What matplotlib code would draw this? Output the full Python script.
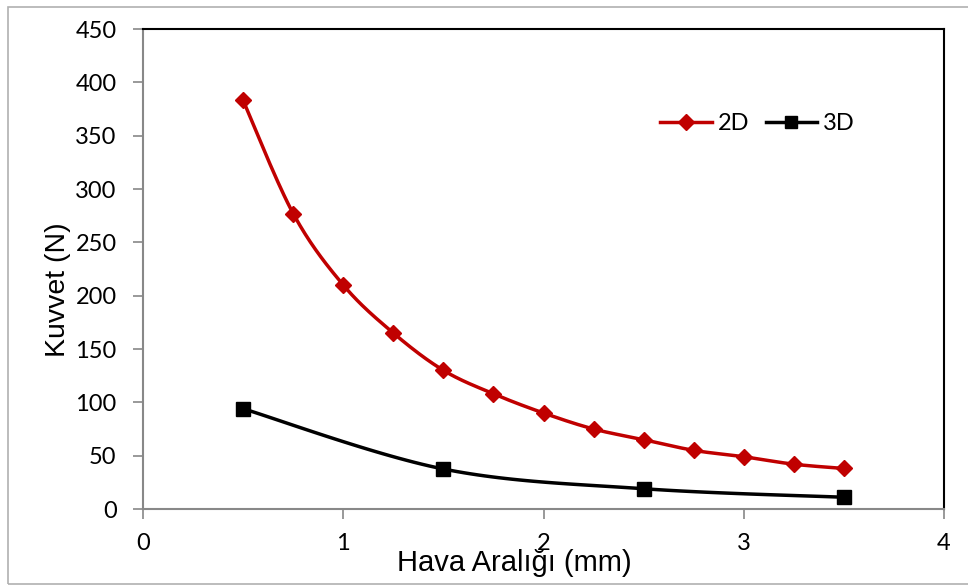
import numpy as np
import matplotlib.pyplot as plt
from matplotlib.patches import Rectangle

x_2d = [0.5, 0.75, 1.0, 1.25, 1.5, 1.75, 2.0, 2.25, 2.5, 2.75, 3.0, 3.25, 3.5]
y_2d = [383, 277, 210, 165, 130, 108, 90, 75, 65, 55, 49, 42, 38]
x_3d = [0.5, 1.5, 2.5, 3.5]
y_3d = [94, 37.5, 19, 11]


def smooth(xs, ys, n=30, t=0.5):
    # excel-like smoothed line: cardinal spline through the points
    xs = np.asarray(xs, float)
    ys = np.asarray(ys, float)
    px = np.concatenate([[xs[0]], xs, [xs[-1]]])
    py = np.concatenate([[ys[0]], ys, [ys[-1]]])
    ox, oy = [], []
    s = np.linspace(0, 1, n)
    for i in range(1, len(px) - 2):
        mx0 = t * (px[i + 1] - px[i - 1])
        my0 = t * (py[i + 1] - py[i - 1])
        mx1 = t * (px[i + 2] - px[i])
        my1 = t * (py[i + 2] - py[i])
        h00 = 2 * s**3 - 3 * s**2 + 1
        h10 = s**3 - 2 * s**2 + s
        h01 = -2 * s**3 + 3 * s**2
        h11 = s**3 - s**2
        ox.append(h00 * px[i] + h10 * mx0 + h01 * px[i + 1] + h11 * mx1)
        oy.append(h00 * py[i] + h10 * my0 + h01 * py[i + 1] + h11 * my1)
    return np.concatenate(ox), np.concatenate(oy)


plt.rcParams['font.family'] = ['Lato', 'DejaVu Sans']

fig = plt.figure(figsize=(9.68, 5.86), dpi=100)
ax = fig.add_axes([143 / 968, 1 - 509 / 586, 801 / 968, 480 / 586])

red = '#c00000'
sx, sy = smooth(x_2d, y_2d)
ax.plot(sx, sy, color=red, lw=2.5, zorder=3)
ax.plot(x_2d, y_2d, 'D', color=red, ms=8.5, zorder=4)
sx, sy = smooth(x_3d, y_3d)
ax.plot(sx, sy, color='black', lw=2.5, zorder=3)
ax.plot(x_3d, y_3d, 's', color='black', ms=10, zorder=4)

# legend handles
ax.plot([], [], '-D', color=red, lw=2.5, ms=8, label='2D')
ax.plot([], [], '-s', color='black', lw=2.5, ms=9, label='3D')
handles, labels = ax.get_legend_handles_labels()
ax.legend(handles[-2:], labels[-2:], loc='center left', bbox_to_anchor=(0.645, 0.803),
          ncol=2, frameon=False, fontsize=17, handlelength=2.2, columnspacing=0.7,
          handletextpad=0.25, borderaxespad=0, borderpad=0)

ax.set_xlim(0, 4)
ax.set_ylim(0, 450)
ax.set_xticks([0, 1, 2, 3, 4])
ax.set_yticks(range(0, 451, 50))
ax.tick_params(labelsize=17, colors='black', length=7, width=1.2)
ax.tick_params(axis='both', color='#888888')
ax.tick_params(axis='x', pad=10)
ax.tick_params(axis='y', pad=12)

for side in ['left', 'bottom']:
    ax.spines[side].set_color('#888888')
    ax.spines[side].set_linewidth(1.5)
for side in ['top', 'right']:
    ax.spines[side].set_color('black')
    ax.spines[side].set_linewidth(1.5)

fig.text(58 / 968, 1 - 290 / 586, 'Kuvvet (N)', rotation=90, ha='center', va='center',
         fontsize=20.5, family=['Liberation Sans', 'DejaVu Sans'])
fig.text(514 / 968, 1 - 563 / 586, 'Hava Aralığı (mm)', ha='center', va='center',
         fontsize=21, family=['Liberation Sans', 'DejaVu Sans'])

fig.patches.append(Rectangle((8 / 968, 1 - 584 / 586), 1.0, 577 / 586,
                             transform=fig.transFigure, fill=False,
                             edgecolor='#b0b0b0', lw=1.2))

fig.savefig('out.png', dpi=100)
